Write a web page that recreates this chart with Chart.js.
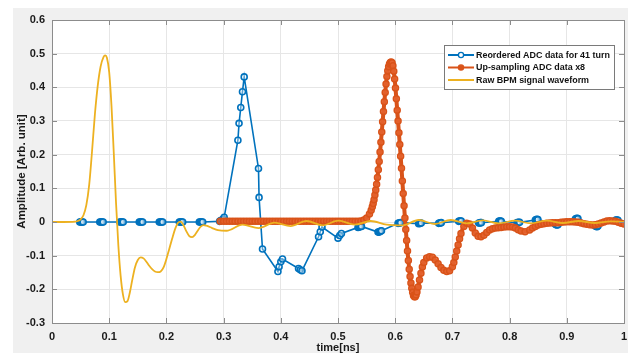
<!DOCTYPE html>
<html>
<head>
<meta charset="utf-8">
<script src="https://cdn.jsdelivr.net/npm/chart.js@4.4.1/dist/chart.umd.min.js"></script>
<style>
  html, body { margin: 0; padding: 0; background: #fff; }
  canvas { display: block; }
</style>
</head>
<body>
<canvas id="bpm_chart" width="637" height="353"></canvas>
<script>
// tick labels
var xTicks = [0, 0.1, 0.2, 0.3, 0.4, 0.5, 0.6, 0.7, 0.8, 0.9, 1];
var yTicks = [-0.3, -0.2, -0.1, 0, 0.1, 0.2, 0.3, 0.4, 0.5, 0.6];

var seriesNames = ["Reordered ADC data for 41 turn", "Up-sampling ADC data x8", "Raw BPM signal waveform"];
var seriesColors = ["#0072bd", "#d95319", "#edb120"];

// reordered ADC samples (blue)
var blueX = [0.0485, 0.050, 0.0515, 0.053, 0.0545, 0.0835, 0.085, 0.0865, 0.088, 0.0895,
             0.1185, 0.120, 0.1215, 0.123, 0.1245, 0.1525, 0.154, 0.1555, 0.157, 0.1585,
             0.1875, 0.189, 0.1905, 0.192, 0.1935, 0.2225, 0.224, 0.2255, 0.227, 0.2285,
             0.2575, 0.259, 0.2605, 0.262, 0.2635, 0.293, 0.295, 0.297, 0.299, 0.301,
             0.325, 0.327, 0.330, 0.333, 0.336, 0.361, 0.362, 0.368,
             0.395, 0.397, 0.400, 0.403, 0.431, 0.434, 0.437, 0.466, 0.469, 0.472,
             0.500, 0.503, 0.506, 0.535, 0.5365, 0.538, 0.5395, 0.541, 0.570, 0.5715, 0.573, 0.5745, 0.576,
             0.605, 0.6065, 0.608, 0.6095, 0.641, 0.6425, 0.644, 0.6455, 0.676, 0.6775, 0.679, 0.6805,
             0.711, 0.7125, 0.714, 0.7155, 0.746, 0.7475, 0.749, 0.7505, 0.781, 0.7825, 0.784, 0.7855,
             0.813, 0.8145, 0.816, 0.8175, 0.845, 0.8465, 0.848, 0.8495, 0.880, 0.8815, 0.883, 0.8845,
             0.915, 0.9165, 0.918, 0.9195, 0.950, 0.9515, 0.953, 0.9545, 0.985, 0.9865, 0.988, 0.9895];
var blueY = [0, 0, 0, 0, 0, 0, 0, 0, 0, 0,
             0, 0, 0, 0, 0, 0, 0, 0, 0, 0,
             0, 0, 0, 0, 0, 0, 0, 0, 0, 0,
             0, 0, 0, 0, 0, 0.002, 0.004, 0.006, 0.009, 0.014,
             0.243, 0.293, 0.34, 0.387, 0.431, 0.159, 0.073, -0.08,
             -0.147, -0.133, -0.118, -0.11, -0.138, -0.142, -0.145, -0.044, -0.029, -0.015,
             -0.048, -0.04, -0.034, -0.016, -0.015, -0.014, -0.013, -0.013, -0.03, -0.03, -0.029, -0.027, -0.026,
             -0.004, -0.003, -0.003, -0.002, -0.005, -0.004, -0.004, -0.003, -0.004, -0.003, -0.003, -0.002,
             0.002, 0.003, 0.003, 0.003, -0.003, -0.003, -0.002, -0.002, 0.002, 0.003, 0.003, 0.002,
             -0.002, -0.002, -0.001, -0.001, 0.006, 0.007, 0.008, 0.007, -0.007, -0.008, -0.009, -0.008,
             0.009, 0.01, 0.011, 0.01, -0.012, -0.013, -0.014, -0.012, 0.005, 0.006, 0.006, 0.005];

// up-sampled ADC data (orange)
var orangeX = [0.294, 0.30, 0.305, 0.31, 0.315, 0.32, 0.325, 0.33, 0.335, 0.34, 0.345, 0.35, 0.355, 0.36, 0.365,
               0.37, 0.375, 0.38, 0.385, 0.39, 0.395, 0.40, 0.405, 0.41, 0.415, 0.42, 0.425, 0.43, 0.435, 0.44,
               0.445, 0.45, 0.455, 0.46, 0.465, 0.47, 0.475, 0.48, 0.485, 0.49, 0.495, 0.50, 0.505, 0.51, 0.515,
               0.52, 0.525, 0.53, 0.535, 0.54, 0.545, 0.55, 0.555, 0.558,
               0.560, 0.5615, 0.563, 0.5645, 0.566, 0.5675, 0.569, 0.5705, 0.572, 0.5735, 0.575, 0.5765,
               0.578, 0.5795, 0.581, 0.5825, 0.584, 0.5855, 0.587, 0.5885, 0.590, 0.5915, 0.593, 0.5945,
               0.596, 0.5975, 0.599, 0.6005, 0.602, 0.6035, 0.605, 0.6065, 0.608, 0.6095, 0.611, 0.6125,
               0.614, 0.6155, 0.617, 0.6185, 0.620, 0.6215, 0.623, 0.6245, 0.626, 0.6275, 0.629, 0.6305,
               0.632, 0.6335, 0.635, 0.6365, 0.638, 0.640, 0.6425, 0.645, 0.6475, 0.65, 0.655, 0.66, 0.665,
               0.67, 0.675, 0.68, 0.685, 0.69, 0.695, 0.70, 0.7025, 0.705, 0.7075, 0.71, 0.7125, 0.715,
               0.72, 0.725, 0.73, 0.735, 0.74, 0.745, 0.75, 0.755, 0.76, 0.765, 0.77, 0.775, 0.78, 0.785,
               0.79, 0.795, 0.80, 0.805, 0.81, 0.815, 0.82, 0.827, 0.835, 0.84, 0.845, 0.85, 0.855, 0.86,
               0.865, 0.87, 0.875, 0.88, 0.885, 0.89, 0.895, 0.90, 0.905, 0.91, 0.915, 0.92, 0.925, 0.93,
               0.935, 0.94, 0.945, 0.95, 0.955, 0.96, 0.965, 0.97, 0.975, 0.98, 0.985, 0.99, 0.995, 1.0];
var orangeY = [0.002, 0.002, 0.002, 0.002, 0.002, 0.002, 0.002, 0.002, 0.002, 0.002, 0.002, 0.002, 0.002, 0.002, 0.002,
               0.002, 0.002, 0.002, 0.002, 0.002, 0.002, 0.002, 0.002, 0.002, 0.002, 0.002, 0.002, 0.002, 0.002, 0.002,
               0.002, 0.002, 0.002, 0.002, 0.002, 0.002, 0.002, 0.002, 0.002, 0.002, 0.002, 0.002, 0.002, 0.002, 0.002,
               0.002, 0.002, 0.002, 0.002, 0.003, 0.006, 0.012, 0.024, 0.035,
               0.045, 0.055, 0.066, 0.08, 0.095, 0.112, 0.132, 0.155, 0.18, 0.208, 0.237, 0.267,
               0.298, 0.328, 0.357, 0.385, 0.41, 0.432, 0.449, 0.461, 0.469, 0.474, 0.475, 0.473,
               0.464, 0.448, 0.425, 0.398, 0.366, 0.332, 0.300, 0.265, 0.23, 0.195, 0.16, 0.122,
               0.085, 0.048, 0.012, -0.022, -0.055, -0.086, -0.114, -0.14, -0.162, -0.181, -0.197, -0.209,
               -0.218, -0.222, -0.222, -0.217, -0.208, -0.193, -0.172, -0.152, -0.134, -0.12, -0.107, -0.103, -0.105,
               -0.113, -0.124, -0.135, -0.143, -0.147, -0.145, -0.133, -0.12, -0.104, -0.086, -0.068, -0.05, -0.034,
               -0.013, -0.004, -0.006, -0.018, -0.033, -0.042, -0.044, -0.039, -0.031, -0.024, -0.02, -0.018, -0.017, -0.016,
               -0.015, -0.014, -0.014, -0.015, -0.018, -0.023, -0.027, -0.029, -0.024, -0.018, -0.013, -0.009, -0.007, -0.005,
               -0.004, -0.003, -0.002, -0.002, -0.002, -0.001, 0.0, 0.001, 0.001, 0.001, 0.0, -0.001, -0.003, -0.005,
               -0.007, -0.008, -0.009, -0.008, -0.006, -0.003, 0.0, 0.003, 0.004, 0.003, 0.002, -0.001, -0.004, -0.006];

// raw BPM waveform (yellow)
var rawX = [0, 0.02, 0.04, 0.045, 0.05, 0.055, 0.06, 0.065, 0.07, 0.075, 0.08, 0.085, 0.09, 0.093, 0.096,
            0.10, 0.104, 0.108, 0.112, 0.116, 0.12, 0.124, 0.128, 0.132, 0.136, 0.14, 0.145, 0.15, 0.155,
            0.16, 0.165, 0.17, 0.175, 0.18, 0.185, 0.19, 0.195, 0.20, 0.205, 0.21, 0.215, 0.22, 0.225,
            0.23, 0.235, 0.24, 0.245, 0.25, 0.255, 0.26, 0.265, 0.27, 0.28, 0.29, 0.305,
            0.333, 0.361, 0.389, 0.417, 0.445, 0.473, 0.501, 0.529, 0.557, 0.585, 0.613, 0.641, 0.669,
            0.697, 0.725, 0.753, 0.781, 0.809, 0.837, 0.865, 0.893, 0.921, 0.949, 0.977, 1.0];
var rawY = [0, 0, 0.001, 0.003, 0.008, 0.02, 0.05, 0.11, 0.21, 0.32, 0.405, 0.462, 0.49, 0.495, 0.488,
            0.445, 0.345, 0.205, 0.055, -0.07, -0.16, -0.215, -0.238, -0.235, -0.21, -0.175, -0.135, -0.113, -0.105,
            -0.108, -0.118, -0.13, -0.14, -0.147, -0.149, -0.147, -0.135, -0.11, -0.08, -0.05, -0.022, -0.003, 0.001,
            -0.01, -0.028, -0.042, -0.045, -0.038, -0.025, -0.014, -0.009, -0.011, -0.018, -0.024, -0.026,
            -0.008, -0.018, -0.002, -0.012, 0.003, -0.01, 0.004, -0.008, 0.003, -0.008, -0.01, 0.006, -0.006,
            0.006, -0.004, 0.005, -0.004, 0.004, -0.004, 0.004, -0.003, 0.003, -0.003, 0.002, 0];

function pairs(xs, ys) {
    return xs.map(function (x, i) { return { x: x, y: ys[i] }; });
}

var FONT = "'Liberation Sans', Arial, Helvetica, sans-serif";
var plotX0 = 13, plotY0 = 8, plotX1 = 628;

var figureBg = {
    id: "figureBg",
    beforeDraw: function (chart) {
        var c = chart.ctx, a = chart.chartArea;
        c.save();
        c.fillStyle = "#ffffff";
        c.fillRect(0, 0, chart.width, chart.height);
        c.fillStyle = "#f0f0f0";
        c.fillRect(plotX0, plotY0, plotX1 - plotX0, chart.height - plotY0);
        c.fillStyle = "#ffffff";
        c.fillRect(a.left, a.top, a.right - a.left, a.bottom - a.top);
        c.restore();
    },
    afterDatasetsDraw: function (chart) {
        var c = chart.ctx, a = chart.chartArea;
        var xs = chart.scales.x, ys = chart.scales.y;
        c.save();
        c.strokeStyle = "#8c8c8c";
        c.lineWidth = 1;
        c.beginPath();
        xTicks.forEach(function (t) {
            var px = Math.round(xs.getPixelForValue(t)) + 0.5;
            c.moveTo(px, a.bottom); c.lineTo(px, a.bottom - 5);
            c.moveTo(px, a.top); c.lineTo(px, a.top + 5);
        });
        yTicks.forEach(function (t) {
            var py = Math.round(ys.getPixelForValue(t)) + 0.5;
            c.moveTo(a.left, py); c.lineTo(a.left + 5, py);
            c.moveTo(a.right, py); c.lineTo(a.right - 5, py);
        });
        c.stroke();
        c.strokeRect(Math.round(a.left) + 0.5, Math.round(a.top) + 0.5,
                     Math.round(a.right - a.left), Math.round(a.bottom - a.top));
        c.restore();
    }
};

var boxLegend = {
    id: "boxLegend",
    afterDraw: function (chart) {
        var c = chart.ctx;
        var bx = 444, by = 45, bw = 170, bh = 44;
        c.save();
        c.fillStyle = "#ffffff";
        c.fillRect(bx, by, bw, bh);
        c.strokeStyle = "#7a7a7a";
        c.lineWidth = 1;
        c.strokeRect(bx + 0.5, by + 0.5, bw, bh);
        var size = 11;
        c.font = "bold " + size + "px " + FONT;
        var w = c.measureText(seriesNames[0]).width;
        size = size * 134 / w;
        c.font = "bold " + size.toFixed(2) + "px " + FONT;
        c.textBaseline = "middle";
        chart.data.datasets.forEach(function (ds, i) {
            var y = by + 10 + i * 12.5;
            c.strokeStyle = ds.borderColor;
            c.lineWidth = 2;
            c.beginPath();
            c.moveTo(bx + 4, y); c.lineTo(bx + 30, y);
            c.stroke();
            if (ds.pointRadius > 0) {
                c.fillStyle = i === 0 ? "#ffffff" : ds.borderColor;
                c.beginPath();
                c.arc(bx + 17, y, 2.6, 0, Math.PI * 2);
                c.fill();
                c.lineWidth = 1.3;
                c.stroke();
            }
            c.fillStyle = "#111111";
            c.fillText(ds.label, bx + 32, y + 0.5);
        });
        c.restore();
    }
};

new Chart(document.getElementById("bpm_chart"), {
    type: "line",
    data: {
        datasets: [
            {   label: seriesNames[0],
                data: pairs(blueX, blueY),
                borderColor: seriesColors[0],
                backgroundColor: seriesColors[0],
                borderWidth: 1.6,
                pointRadius: 3,
                pointBorderWidth: 1.6,
                pointBackgroundColor: "rgba(255,255,255,0.35)",
                pointBorderColor: seriesColors[0],
                tension: 0,
                order: 3
            },
            {   label: seriesNames[1],
                data: pairs(orangeX, orangeY),
                borderColor: seriesColors[1],
                backgroundColor: seriesColors[1],
                borderWidth: 4,
                pointRadius: 3,
                pointBorderWidth: 1.5,
                pointBackgroundColor: "rgba(230,100,50,0.75)",
                pointBorderColor: seriesColors[1],
                cubicInterpolationMode: "monotone",
                order: 2
            },
            {   label: seriesNames[2],
                data: pairs(rawX, rawY),
                borderColor: seriesColors[2],
                backgroundColor: seriesColors[2],
                borderWidth: 1.8,
                pointRadius: 0,
                cubicInterpolationMode: "monotone",
                order: 1
            }
        ]
    },
    options: {
        responsive: false,
        animation: false,
        devicePixelRatio: 1,
        layout: { padding: { top: 20, right: 13, left: 0, bottom: 0 } },
        plugins: { legend: { display: false }, tooltip: { enabled: false } },
        scales: {
            x: {
                type: "linear", min: 0, max: 1,
                afterBuildTicks: function (s) { s.ticks = xTicks.map(function (v) { return { value: v }; }); },
                afterFit: function (s) { s.height = 30; },
                ticks: {
                    padding: 7, maxRotation: 0, color: "#1a1a1a",
                    font: { family: FONT, size: 11, weight: "bold" },
                    callback: function (v) { return String(Math.round(v * 10) / 10); }
                },
                grid: { color: "#e6e6e6", drawTicks: false },
                border: { display: false },
                title: { display: true, text: "time[ns]", color: "#1a1a1a",
                         font: { family: FONT, size: 11, weight: "bold", lineHeight: 1 },
                         padding: { top: 0, bottom: 0 } }
            },
            y: {
                type: "linear", min: -0.3, max: 0.6,
                afterBuildTicks: function (s) { s.ticks = yTicks.map(function (v) { return { value: v }; }); },
                afterFit: function (s) { s.width = 52; },
                ticks: {
                    padding: 7, color: "#1a1a1a",
                    font: { family: FONT, size: 11, weight: "bold" },
                    callback: function (v) { return String(Math.round(v * 10) / 10); }
                },
                grid: { color: "#e6e6e6", drawTicks: false },
                border: { display: false },
                title: { display: true, text: "Amplitude [Arb. unit]", color: "#1a1a1a",
                         font: { family: FONT, size: 11.5, weight: "bold", lineHeight: 1.2 },
                         padding: { top: 15, bottom: 0 } }
            }
        }
    },
    plugins: [figureBg, boxLegend]
});
</script>
</body>
</html>
